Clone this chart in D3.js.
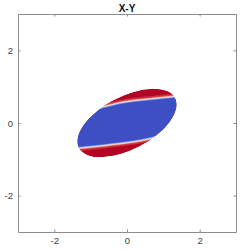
<!DOCTYPE html>
<html>
<head>
<meta charset="utf-8">
<script src="https://cdn.jsdelivr.net/npm/d3@7"></script>
<style>
  body { margin: 0; background: #fff; }
  text { font-family: "Liberation Sans", Arial, sans-serif; }
</style>
</head>
<body>
<div class="canvas"></div>
<script>
// chart text
const title = 'X-Y';
const tickValues = [-2, 0, 2];
const xDomain = [-3, 3];
const yDomain = [-3, 3];

// elliptical patch (data units)
const patchCentre = [0, 0];
const patchAxes = [1.49, 0.73];   // semi-major, semi-minor
const patchTilt = 27.6;           // degrees, counter-clockwise

// upper and lower edges of the blue core, sampled at coreX
const coreX      = [-1.6, -1.2, -0.8, -0.4, 0.0, 0.4, 0.8, 1.2, 1.6];
const coreTop    = [0.14, 0.26, 0.37, 0.47, 0.55, 0.60, 0.64, 0.68, 0.71];
const coreBottom = [-0.68, -0.64, -0.60, -0.55, -0.50, -0.44, -0.35, -0.22, -0.10];

// colour values stepped through across the edge (0 = core, 1 = outer)
const edgeLevels = [1, 0.9, 0.8, 0.7, 0.6, 0.5, 0.4, 0.3, 0.2, 0.1, 0];

const width = 250, height = 250;
const margins = {top: 14, left: 18, right: 14, bottom: 18};
const graphWidth = width - margins.left - margins.right;
const graphHeight = height - margins.top - margins.bottom;
const edgeWidth = 0.14; // data units from core edge to full red

const svg = d3.select('.canvas')
  .append('svg')
  .attr('width', width)
  .attr('height', height);

const x = d3.scaleLinear().domain(xDomain).range([0, graphWidth]);
const y = d3.scaleLinear().domain(yDomain).range([graphHeight, 0]);

// blue -> white -> red, weighted so the pale part stays thin
const colour = d3.scaleLinear()
  .domain([0, 0.15, 0.3, 0.45, 0.6, 1])
  .range(['#3d4fc2', '#7d9cf0', '#dfe4ee', '#f4c0a6', '#d8444a', '#b40426'])
  .interpolate(d3.interpolateLab);

const graph = svg.append('g')
  .attr('transform', 'translate(' + margins.left + ',' + margins.top + ')');

const defs = svg.append('defs');
const cx = x(patchCentre[0]), cy = y(patchCentre[1]);
const rx = x(patchAxes[0]) - x(0), ry = x(patchAxes[1]) - x(0);

defs.append('clipPath').attr('id', 'patch')
  .append('ellipse')
  .attr('cx', cx).attr('cy', cy)
  .attr('rx', rx).attr('ry', ry)
  .attr('transform', 'rotate(' + (-patchTilt) + ',' + cx + ',' + cy + ')');

defs.append('filter').attr('id', 'soft')
  .attr('x', '-10%').attr('y', '-10%').attr('width', '120%').attr('height', '120%')
  .append('feGaussianBlur').attr('stdDeviation', 0.4);

const patch = graph.append('g').attr('clip-path', 'url(#patch)');
patch.append('ellipse')
  .attr('cx', cx).attr('cy', cy)
  .attr('rx', rx).attr('ry', ry)
  .attr('transform', 'rotate(' + (-patchTilt) + ',' + cx + ',' + cy + ')')
  .attr('fill', colour(1));

const layers = patch.append('g').attr('filter', 'url(#soft)');
const core = coreX.map((c, i) => ({x: c, top: coreTop[i], bottom: coreBottom[i]}));

edgeLevels.forEach(v => {
  const off = v * edgeWidth;
  const area = d3.area()
    .x(d => x(d.x))
    .y0(d => y(d.bottom - off))
    .y1(d => y(d.top + off))
    .curve(d3.curveMonotoneX);
  layers.append('path')
    .datum(core)
    .attr('d', area)
    .attr('fill', colour(v));
});

// axes, ticks pointing inward on all four sides
const axisColour = '#8c8c8c';
const numFormat = d => d < 0 ? '-' + Math.abs(d) : String(d);
const bottomAxis = graph.append('g')
  .attr('transform', 'translate(0,' + graphHeight + ')')
  .call(d3.axisBottom(x).tickValues(tickValues).tickSizeInner(-2.5).tickSizeOuter(0).tickPadding(5).tickFormat(numFormat));
const topAxis = graph.append('g')
  .call(d3.axisTop(x).tickValues(tickValues).tickSizeInner(-2.5).tickSizeOuter(0).tickFormat(''));
const leftAxis = graph.append('g')
  .call(d3.axisLeft(y).tickValues(tickValues).tickSizeInner(-2.5).tickSizeOuter(0).tickPadding(5).tickFormat(numFormat));
const rightAxis = graph.append('g')
  .attr('transform', 'translate(' + graphWidth + ',0)')
  .call(d3.axisRight(y).tickValues(tickValues).tickSizeInner(-2.5).tickSizeOuter(0).tickFormat(''));

[bottomAxis, topAxis, leftAxis, rightAxis].forEach(a => {
  a.select('.domain').attr('stroke', axisColour);
  a.selectAll('.tick line').attr('stroke', axisColour);
  a.selectAll('.tick text')
    .attr('fill', '#404040')
    .style('font-size', '9.5px')
    .style('font-family', '"Liberation Sans", Arial, sans-serif');
});

svg.append('text')
  .attr('x', margins.left + graphWidth / 2)
  .attr('y', 11.5)
  .attr('text-anchor', 'middle')
  .attr('font-weight', 'bold')
  .attr('font-size', '10px')
  .attr('fill', '#111')
  .text(title);
</script>
</body>
</html>
